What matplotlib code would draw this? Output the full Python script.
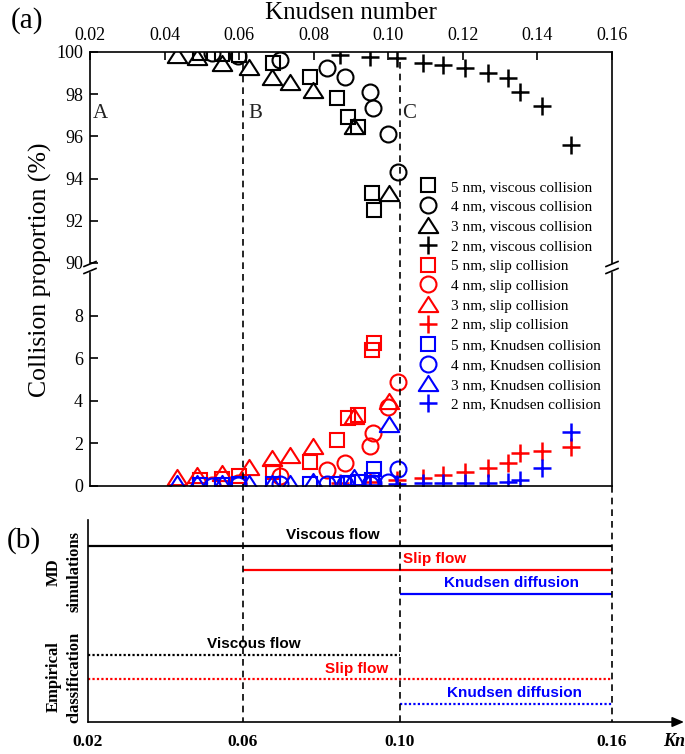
import numpy as np
import matplotlib
matplotlib.use('Agg')
import matplotlib.pyplot as plt
from matplotlib.lines import Line2D
from matplotlib.path import Path
from matplotlib.transforms import blended_transform_factory

plt.rcParams['font.family'] = ['Liberation Serif', 'DejaVu Serif']

# ---------------- data (a) ----------------
# 5 nm (squares)
kn5 = [0.0495, 0.0554, 0.0600, 0.0691, 0.0790, 0.0862, 0.0892, 0.0919, 0.0957, 0.0962]
visc5 = [99.95, 99.9, 99.85, 99.5, 98.8, 97.8, 96.9, 96.45, 93.3, 92.5]
slip5 = [0.3, 0.35, 0.45, 0.65, 1.15, 2.15, 3.2, 3.35, 6.4, 6.7]
knud5 = [0.05, 0.05, 0.1, 0.1, 0.1, 0.1, 0.15, 0.2, 0.3, 0.8]
# 4 nm (circles)
kn4 = [0.0527, 0.0597, 0.0710, 0.0836, 0.0884, 0.0951, 0.0959, 0.0999, 0.1026]
visc4 = [99.95, 99.8, 99.6, 99.25, 98.8, 98.1, 97.35, 96.1, 94.3]
slip4 = [0.05, 0.15, 0.45, 0.75, 1.1, 1.9, 2.5, 3.7, 4.9]
knud4 = [0.0, 0.05, 0.1, 0.1, 0.1, 0.1, 0.15, 0.2, 0.8]
# 3 nm (triangles)
kn3 = [0.0433, 0.0487, 0.0554, 0.0626, 0.0688, 0.0736, 0.0798, 0.0908, 0.1002]
visc3 = [99.85, 99.76, 99.5, 99.3, 98.8, 98.6, 98.2, 96.5, 93.3]
slip3 = [0.42, 0.5, 0.6, 0.9, 1.3, 1.45, 1.9, 3.3, 4.0]
knud3 = [0.15, 0.15, 0.15, 0.15, 0.15, 0.15, 0.25, 0.4, 2.9]
# 2 nm (plus)
kn2 = [0.0871, 0.0951, 0.1023, 0.1093, 0.1147, 0.1206, 0.1267, 0.1321, 0.1353, 0.1412, 0.1490]
visc2 = [99.85, 99.75, 99.7, 99.5, 99.4, 99.25, 99.0, 98.75, 98.1, 97.45, 95.6]
slip2 = [0.15, 0.2, 0.3, 0.37, 0.5, 0.65, 0.85, 1.1, 1.55, 1.65, 1.85]
knud2 = [0.02, 0.05, 0.08, 0.12, 0.15, 0.15, 0.15, 0.2, 0.3, 0.85, 2.55]

sizes = ['5 nm', '4 nm', '3 nm', '2 nm']
kinds = ['viscous', 'slip', 'Knudsen']
region_labels = ['A', 'B', 'C']
region_kn = [0.0208, 0.0624, 0.1037]

# ---------------- data (b) ----------------
b_ticks = [0.02, 0.06, 0.10, 0.16]
b_tick_labels = ['0.02', '0.06', '0.10', '0.16']
regimes = ['Viscous flow', 'Slip flow', 'Knudsen diffusion']
regime_colors = ['black', '#ff0000', '#0000ff']
md_start = [0.02, 0.06, 0.10]
md_end = [0.16, 0.16, 0.16]
emp_start = [0.02, 0.02, 0.10]
emp_end = [0.10, 0.16, 0.16]
md_label_kn = [0.0829, 0.1099, 0.1315]
emp_label_kn = [0.0628, 0.0890, 0.1324]

# ---------------- figure ----------------
W, H = 685, 754
fig = plt.figure(figsize=(W / 100, H / 100), dpi=100)


def fx(px):
    return px / W


def fy(py):
    return 1 - py / H


ax_up = fig.add_axes([fx(90), fy(263), fx(612) - fx(90), fy(52) - fy(263)])
ax_lo = fig.add_axes([fx(90), fy(486), fx(612) - fx(90), fy(273) - fy(486)])
ax_b = fig.add_axes([fx(88), fy(722), fx(684) - fx(88), fy(520) - fy(722)])

tri_path = Path([(-1, -0.78), (1, -0.78), (0, 0.78), (-1, -0.78)],
                [Path.MOVETO, Path.LINETO, Path.LINETO, Path.CLOSEPOLY])
mk = {'5 nm': ('s', 10), '4 nm': ('o', 11.5), '3 nm': (tri_path, 14), '2 nm': ('+', 13.5)}
cols = {'viscous': 'black', 'slip': '#ff0000', 'Knudsen': '#0000ff'}

series = {
    ('5 nm', 'viscous'): (kn5, visc5), ('4 nm', 'viscous'): (kn4, visc4),
    ('3 nm', 'viscous'): (kn3, visc3), ('2 nm', 'viscous'): (kn2, visc2),
    ('5 nm', 'slip'): (kn5, slip5), ('4 nm', 'slip'): (kn4, slip4),
    ('3 nm', 'slip'): (kn3, slip3), ('2 nm', 'slip'): (kn2, slip2),
    ('5 nm', 'Knudsen'): (kn5, knud5), ('4 nm', 'Knudsen'): (kn4, knud4),
    ('3 nm', 'Knudsen'): (kn3, knud3), ('2 nm', 'Knudsen'): (kn2, knud2),
}

handles, labels = [], []
for kind in kinds:
    for s in sizes:
        x, y = series[(s, kind)]
        m, ms = mk[s]
        mew = 1.8 if s == '2 nm' else 1.5
        ax = ax_up if kind == 'viscous' else ax_lo
        ax.plot(x, y, ls='none', marker=m, ms=ms, mfc='none', mec=cols[kind], mew=mew)
        handles.append(Line2D([], [], ls='none', marker=m, ms=ms, mfc='none',
                              mec=cols[kind], mew=mew))
        labels.append(f'{s}, {kind} collision')

for ax in (ax_up, ax_lo):
    ax.set_xlim(0.02, 0.16)
    for sp in ax.spines.values():
        sp.set_linewidth(1.2)

ax_up.set_ylim(90, 100)
ax_up.set_yticks(np.arange(90, 101, 2))
ax_up.spines['bottom'].set_visible(False)
ax_up.xaxis.tick_top()
ax_up.set_xticks(np.arange(0.02, 0.161, 0.02))
ax_up.set_xticklabels([f'{v:.2f}' for v in np.arange(0.02, 0.161, 0.02)])
ax_up.tick_params(axis='x', which='both', top=True, bottom=False, labeltop=True,
                  labelbottom=False, direction='in', length=6, width=1.2,
                  labelsize=13, pad=6)
ax_up.tick_params(axis='y', direction='in', length=6, width=1.2, labelsize=13,
                  right=False, pad=5)

ax_lo.set_ylim(0, 10)
ax_lo.set_yticks(np.arange(0, 9, 2))
ax_lo.spines['top'].set_visible(False)
ax_lo.tick_params(axis='x', bottom=False, labelbottom=False, top=False)
ax_lo.tick_params(axis='y', direction='in', length=6, width=1.2, labelsize=13,
                  right=False, pad=5)

for lab, k in zip(region_labels, region_kn):
    ax_up.text(k, 97.1, lab, fontsize=15, ha='left', va='center', color='#222222')

# break marks
for px in (90, 612):
    for py in (264, 271):
        fig.add_artist(Line2D([fx(px - 6), fx(px + 6)], [fy(py + 2.5), fy(py - 2.5)],
                              transform=fig.transFigure, color='k', lw=1.2))

fig.text(fx(40), fy(270), 'Collision proportion (%)', rotation=90, ha='center',
         va='center', fontsize=18.5)
fig.text(fx(351), fy(13), 'Knudsen number', ha='center', va='center', fontsize=18)
fig.text(fx(27), fy(21), '(a)', ha='center', va='center', fontsize=21)
fig.text(fx(24), fy(541), '(b)', ha='center', va='center', fontsize=21)

fig.legend(handles, labels, loc='upper left', bbox_to_anchor=(fx(420.4), fy(180)),
           frameon=False, fontsize=11, handlelength=1.0, handletextpad=1.0,
           labelspacing=0.40, borderpad=0, borderaxespad=0)

# ---------------- panel (b) ----------------
b_pos = [0, 1, 2.013, 3.38]


def pos(k):
    return np.interp(k, b_ticks, b_pos)


md_levels = [7.25, 6.25, 5.25]
emp_levels = [2.75, 1.75, 0.75]
ax_b.set_xlim(0, 3.845)
ax_b.set_ylim(0, 8.31)
for sp in ('top', 'right', 'bottom'):
    ax_b.spines[sp].set_visible(False)
ax_b.spines['left'].set_linewidth(1.2)
ax_b.set_yticks([])
ax_b.set_xticks(b_pos)
ax_b.set_xticklabels(b_tick_labels, fontweight='bold', fontsize=12.5)
ax_b.tick_params(axis='x', length=0, pad=9)
ax_b.annotate('', xy=(1, 0), xytext=(0, 0), xycoords='axes fraction',
              textcoords='axes fraction',
              arrowprops=dict(arrowstyle='-|>,head_length=0.7,head_width=0.3',
                              color='k', lw=1.2, shrinkA=0, shrinkB=0))

for i in range(3):
    ax_b.plot([pos(md_start[i]), pos(md_end[i])], [md_levels[i]] * 2,
              color=regime_colors[i], lw=1.6, solid_capstyle='butt')
    ax_b.plot([pos(emp_start[i]), pos(emp_end[i])], [emp_levels[i]] * 2,
              color=regime_colors[i], lw=1.6, ls=(0, (1, 1)))
    ax_b.text(pos(md_label_kn[i]), md_levels[i] + 0.45, regimes[i],
              color=regime_colors[i], ha='center', va='center', fontsize=11,
              fontweight='bold', family=['Liberation Sans', 'DejaVu Sans'])
    ax_b.text(pos(emp_label_kn[i]), emp_levels[i] + 0.45, regimes[i],
              color=regime_colors[i], ha='center', va='center', fontsize=11,
              fontweight='bold', family=['Liberation Sans', 'DejaVu Sans'])

fig.text(fx(64), fy(572), 'MD\nsimulations', rotation=90, ha='center', va='center',
         fontsize=12, fontweight='bold', linespacing=1.35, multialignment='center')
fig.text(fx(64), fy(677), 'Empirical\nclassification', rotation=90, ha='center',
         va='center', fontsize=12, fontweight='bold', linespacing=1.35,
         multialignment='center')
fig.text(fx(674), fy(741), 'Kn', ha='center', va='center', fontsize=13,
         fontweight='bold', fontstyle='italic')

# dashed separators
tr = blended_transform_factory(ax_b.transData, fig.transFigure)
for k, ytop in [(0.06, 64), (0.10, 62), (0.16, 486)]:
    fig.add_artist(Line2D([pos(k)] * 2, [fy(ytop), fy(722)], transform=tr,
                          color='k', lw=1.2, ls=(0, (4, 3))))

fig.savefig('out.png', dpi=100)
